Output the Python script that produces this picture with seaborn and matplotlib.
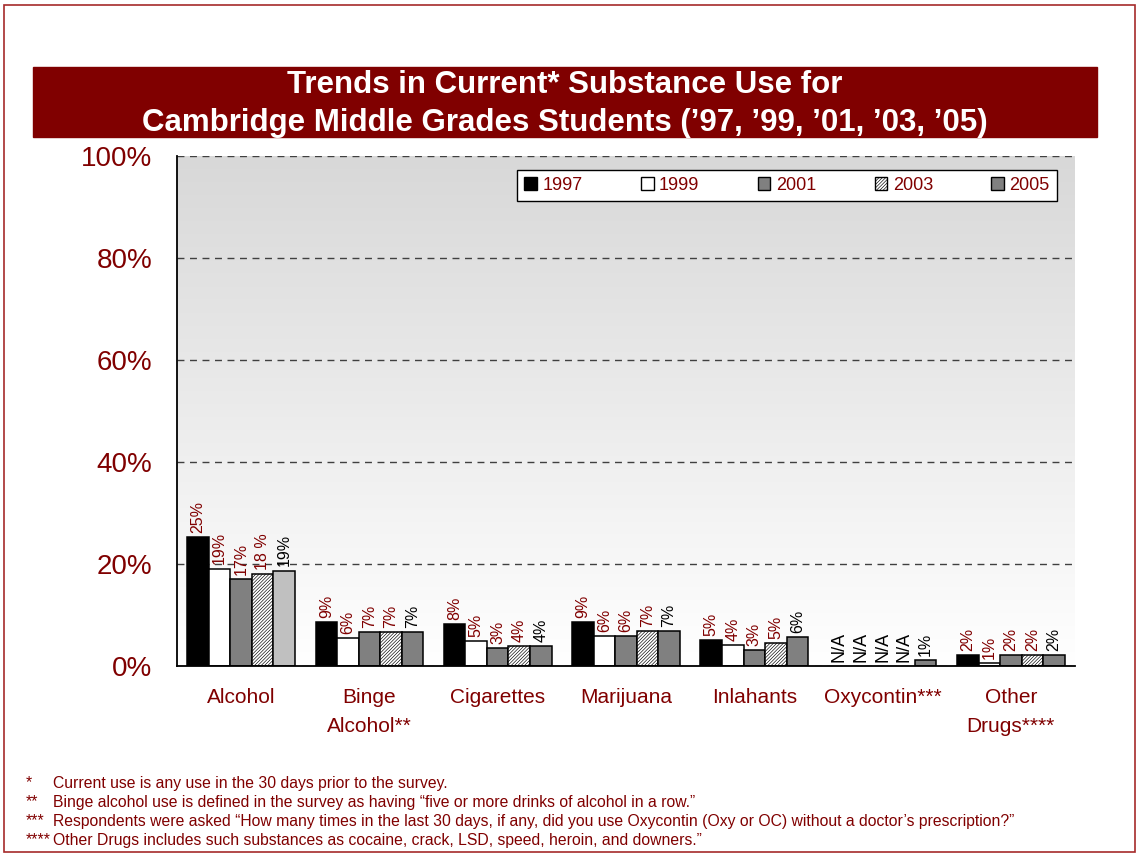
import numpy as np
import pandas as pd
import matplotlib
matplotlib.use('Agg')
import matplotlib.pyplot as plt
import seaborn as sns
from matplotlib.patches import Patch, Rectangle
from matplotlib.colors import LinearSegmentedColormap

categories = ['Alcohol', 'Binge\nAlcohol**', 'Cigarettes', 'Marijuana',
              'Inlahants', 'Oxycontin***', 'Other\nDrugs****']
years = ['1997', '1999', '2001', '2003', '2005']

# bar heights (%), None = not asked that year
v1997 = [25.3, 8.6, 8.3, 8.6, 5.1, None, 2.2]
v1999 = [19.1, 5.5, 4.9, 5.9, 4.1, None, 0.6]
v2001 = [17.1, 6.7, 3.5, 5.9, 3.1, None, 2.2]
v2003 = [18.1, 6.7, 3.9, 6.9, 4.5, None, 2.2]
v2005 = [18.7, 6.7, 3.9, 6.9, 5.7, 1.2, 2.2]

# printed labels
l1997 = ['25%', '9%', '8%', '9%', '5%', 'N/A', '2%']
l1999 = ['19%', '6%', '5%', '6%', '4%', 'N/A', '1%']
l2001 = ['17%', '7%', '3%', '6%', '3%', 'N/A', '2%']
l2003 = ['18 %', '7%', '4%', '7%', '5%', 'N/A', '2%']
l2005 = ['19%', '7%', '4%', '7%', '6%', '1%', '2%']

footnotes = [
    ('*', 'Current use is any use in the 30 days prior to the survey.'),
    ('**', 'Binge alcohol use is defined in the survey as having \u201cfive or more drinks of alcohol in a row.\u201d'),
    ('***', 'Respondents were asked \u201cHow many times in the last 30 days, if any, did you use Oxycontin (Oxy or OC) without a doctor\u2019s prescription?\u201d'),
    ('****', 'Other Drugs includes such substances as cocaine, crack, LSD, speed, heroin, and downers.\u201d'),
]

values = [v1997, v1999, v2001, v2003, v2005]
labels = [l1997, l1999, l2001, l2003, l2005]

rows = []
for y, vals in zip(years, values):
    for c, v in zip(categories, vals):
        rows.append({'category': c, 'year': y, 'value': 0 if v is None else v})
df = pd.DataFrame(rows)

MAROON = '#800000'
HATCH = '//////////'
year_colors = {'1997': 'black', '1999': 'white', '2001': '#808080',
               '2003': 'white', '2005': '#808080'}

sns.set_style('white')
plt.rcParams['font.family'] = ['Liberation Sans', 'DejaVu Sans']
plt.rcParams['hatch.linewidth'] = 0.45

W, H = 1137, 855
fig = plt.figure(figsize=(W / 100, H / 100), dpi=100)
ax = fig.add_axes([177 / W, 1 - 666 / H, (1075 - 177) / W, (666 - 156) / H])

sns.barplot(data=df, x='category', y='value', hue='year', order=categories,
            hue_order=years, palette=year_colors, width=0.84, saturation=1,
            edgecolor='black', linewidth=1.1, legend=False, ax=ax)

for i, (y, cont) in enumerate(zip(years, ax.containers)):
    for j, bar in enumerate(cont):
        missing = values[i][j] is None
        if missing:
            bar.set_visible(False)
        if y == '2003':
            bar.set_hatch(HATCH)
        if y == '2005' and j == 0:
            bar.set_facecolor('#c0c0c0')
        col = 'black' if (y == '2005' or missing) else MAROON
        base = 0 if missing else values[i][j]
        ax.annotate(labels[i][j], (bar.get_x() + bar.get_width() / 2, base),
                    xytext=(0, 3), textcoords='offset points',
                    rotation=90, ha='center', va='bottom',
                    fontsize=13 if missing else 11.5, color=col)

# grey-to-white background
cmap = LinearSegmentedColormap.from_list('bg', ['#ffffff', '#d8d8d8'])
ax.imshow(np.linspace(0, 1, 256).reshape(-1, 1), cmap=cmap, aspect='auto',
          extent=(-0.5, 6.5, 0, 100), origin='lower', zorder=0)
ax.set_xlim(-0.5, 6.5)
ax.set_ylim(0, 100)
ax.set_yticks([0, 20, 40, 60, 80, 100])
ax.set_yticklabels(['0%', '20%', '40%', '60%', '80%', '100%'])
ax.set_axisbelow(True)
ax.yaxis.grid(True, linestyle=(0, (5, 4)), color='#404040', linewidth=1)
ax.xaxis.grid(False)
ax.tick_params(axis='y', length=0, pad=18, labelsize=20, labelcolor=MAROON)
ax.tick_params(axis='x', length=0, pad=16, labelsize=15, labelcolor=MAROON)
ax.set_xlabel('')
ax.set_ylabel('')
for t in ax.get_xticklabels():
    t.set_linespacing(1.65)
for s in ['top', 'right']:
    ax.spines[s].set_visible(False)
for s in ['left', 'bottom']:
    ax.spines[s].set_color('black')
    ax.spines[s].set_linewidth(1.3)

handles = []
for y in years:
    handles.append(Patch(facecolor=year_colors[y], edgecolor='black',
                         hatch=HATCH if y == '2003' else None, label=y))
x0 = (517 - 177) / (1075 - 177)
y0 = (666 - 201) / (666 - 156)
leg = ax.legend(handles=handles, ncol=5, loc='lower left', mode='expand',
                bbox_to_anchor=(x0, y0, (1057 - 517) / (1075 - 177), 29 / 510),
                borderaxespad=0, fontsize=13, labelcolor=MAROON,
                handlelength=0.7, handleheight=0.7, handletextpad=0.3,
                borderpad=0.4, fancybox=False, framealpha=1, edgecolor='black')
leg.get_frame().set_linewidth(1)

# title banner
fig.patches.append(Rectangle((33 / W, 1 - 137 / H), (1097 - 33) / W, 70 / H,
                             transform=fig.transFigure, color=MAROON, zorder=0))
fig.text(0.5 * (33 + 1097) / W, 1 - 85 / H, 'Trends in Current* Substance Use for',
         ha='center', va='center', color='white', fontsize=22.5, fontweight='bold')
fig.text(0.5 * (33 + 1097) / W, 1 - 123 / H,
         'Cambridge Middle Grades Students (\u201997, \u201999, \u201901, \u201903, \u201905)',
         ha='center', va='center', color='white', fontsize=22.5, fontweight='bold')

# outer frame
fig.patches.append(Rectangle((4 / W, 3 / H), (1135 - 4) / W, (851 - 4) / H,
                             transform=fig.transFigure, fill=False,
                             edgecolor='#a52a2a', linewidth=1.2))

for k, (mark, txt) in enumerate(footnotes):
    yy = 1 - (783 + 19 * k) / H
    fig.text(26 / W, yy, mark, ha='left', va='center', color=MAROON, fontsize=11.3)
    fig.text(53 / W, yy, txt, ha='left', va='center', color=MAROON, fontsize=11.3)

fig.savefig('out.png', dpi=100)
